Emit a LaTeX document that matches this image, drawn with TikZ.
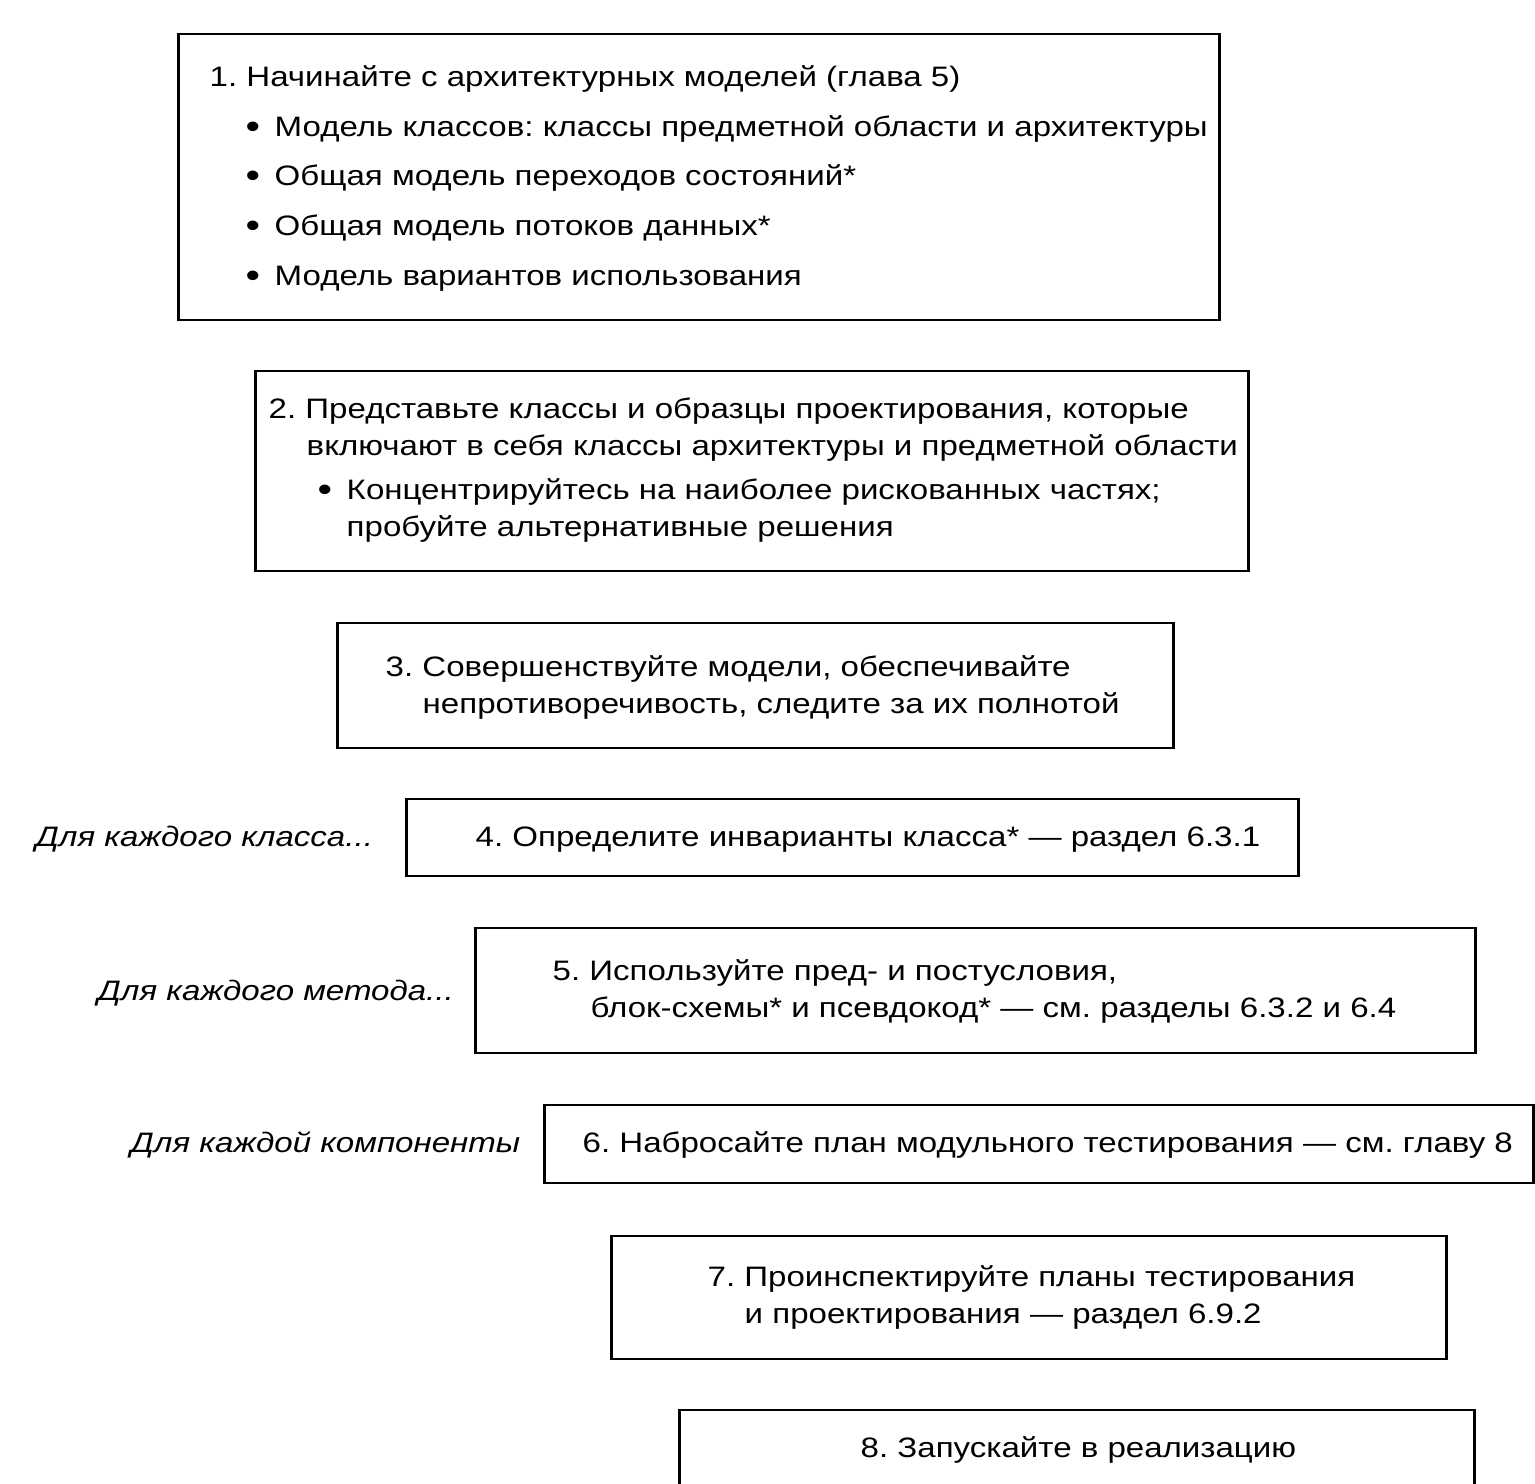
\documentclass[tikz,border=0pt]{standalone}
\usepackage{fontspec}
\setmainfont[FakeStretch=1.175]{Liberation Sans}
\newcommand{\itemdot}{\makebox[0.26cm][l]{\hspace*{-0.03cm}\raisebox{-0.6pt}{\fontsize{10}{10}\selectfont\textbullet}}}
\frenchspacing
\begin{document}
\begin{tikzpicture}[x=0.01cm,y=-0.01cm]
        \tikzstyle{stepbox}=[rectangle,draw=black,line width=0.8pt,inner sep=0pt]
        \tikzstyle{steptext}=[anchor=base west,align=left,inner sep=0pt,font=\fontsize{8}{10.5}\selectfont]
        \tikzstyle{looptext}=[anchor=base west,inner sep=0pt,font=\fontsize{8}{10.5}\selectfont\itshape]
       \useasboundingbox (0,0) rectangle (1535,1484);
       \clip (0,0) rectangle (1535,1484);
       \begin{scope}
         % boxes
         \node [stepbox,minimum width=10.40cm,minimum height=2.86cm] (box1) at (699,177) {};
         \node [stepbox,minimum width=9.92cm,minimum height=2.00cm] (box2) at (752,471) {};
         \node [stepbox,minimum width=8.35cm,minimum height=1.25cm] (box3) at (755.5,685.5) {};
         \node [stepbox,minimum width=8.91cm,minimum height=0.77cm] (box4) at (852.5,837.5) {};
         \node [stepbox,minimum width=9.99cm,minimum height=1.25cm] (box5) at (975.5,990.5) {};
         \node [stepbox,minimum width=9.88cm,minimum height=0.78cm] (box6) at (1039,1144) {};
         \node [stepbox,minimum width=8.34cm,minimum height=1.23cm] (box7) at (1029,1297.5) {};
         \node [stepbox,minimum width=7.94cm,minimum height=1.10cm] (box8) at (1077,1465) {};
         % texts (base = last line)
         \node [steptext,font=\fontsize{8}{14.1}\selectfont] (txt1) at (209,285)
           {1. Начинайте с архитектурных моделей (глава 5)\\
            \hspace*{0.39cm}\itemdot Модель классов: классы предметной области и архитектуры\\
            \hspace*{0.39cm}\itemdot Общая модель переходов состояний*\\
            \hspace*{0.39cm}\itemdot Общая модель потоков данных*\\
            \hspace*{0.39cm}\itemdot Модель вариантов использования};
         \node [steptext] (txt2) at (268,536)
           {2. Представьте классы и образцы проектирования, которые\\
            \hspace*{0.38cm}включают в себя классы архитектуры и предметной области\\[2pt]
            \hspace*{0.52cm}\itemdot Концентрируйтесь на наиболее рискованных частях;\\
            \hspace*{0.78cm}пробуйте альтернативные решения};
         \node [steptext] (txt3) at (385,713)
           {3. Совершенствуйте модели, обеспечивайте\\
            \hspace*{0.37cm}непротиворечивость, следите за их полнотой};
         \node [steptext] (txt4) at (475,846)
           {4. Определите инварианты класса* — раздел 6.3.1};
         \node [steptext] (txt5) at (552,1017)
           {5. Используйте пред- и постусловия,\\
            \hspace*{0.38cm}блок-схемы* и псевдокод* — см. разделы 6.3.2 и 6.4};
         \node [steptext] (txt6) at (582,1152)
           {6. Набросайте план модульного тестирования — см. главу 8};
         \node [steptext] (txt7) at (707,1323)
           {7. Проинспектируйте планы тестирования\\
            \hspace*{0.37cm}и проектирования — раздел 6.9.2};
         \node [steptext] (txt8) at (860,1457)
           {8. Запускайте в реализацию};
         % loop labels
         \node [looptext] (lbl4) at (35,846) {Для каждого класса...};
         \node [looptext] (lbl5) at (97,1000) {Для каждого метода...};
         \node [looptext] (lbl6) at (130,1152) {Для каждой компоненты};
        \end{scope}
      \end{tikzpicture}
\end{document}
